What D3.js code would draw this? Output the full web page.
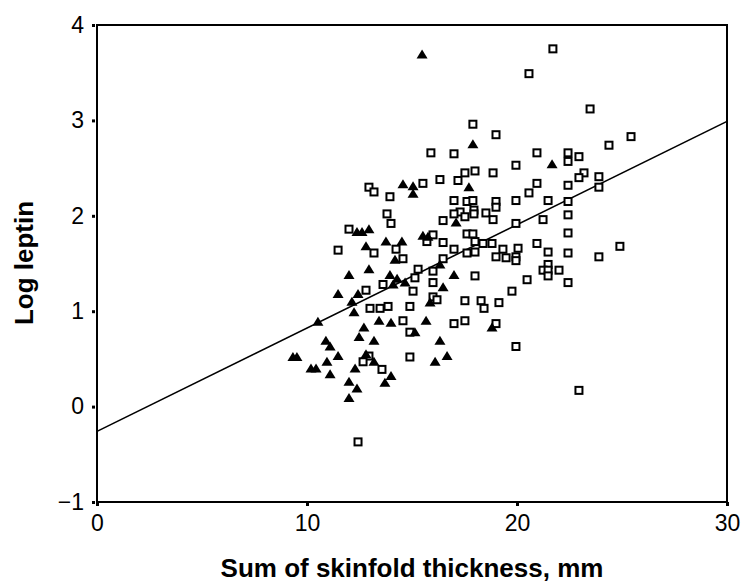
<!DOCTYPE html>
<html>
<head>
<meta charset="utf-8">
<script src="https://cdn.jsdelivr.net/npm/d3@7"></script>
<style>
  body { margin: 0; background: #fff; }
  svg { font-family: "Liberation Sans", Arial, sans-serif; }
  .tick text { font-size: 23px; fill: #000; }
  .tick line { stroke: #000; stroke-width: 3; }
</style>
</head>
<body>
<div id="main-chart"></div>
<script>
// Log leptin vs sum of skinfold thickness

// Open squares
var squareX = [12.95, 13.19, 13.95, 13.81, 14.0, 12.0, 11.48, 13.19, 14.24, 13.62,
  12.81, 13.0, 13.48, 13.86, 12.95, 12.67, 13.57, 12.43, 17.9, 19.0,
  15.9, 17.0, 19.95, 17.52, 18.0, 18.86, 16.33, 17.19, 15.52, 17.0,
  17.62, 17.9, 19.0, 19.0, 19.95, 17.29, 17.0, 17.52, 17.95, 17.95,
  18.52, 16.48, 18.86, 19.95, 16.0, 15.71, 17.62, 17.9, 18.0, 18.38,
  18.81, 16.48, 17.0, 17.62, 18.0, 19.33, 19.0, 19.48, 20.05, 19.95,
  19.95, 14.57, 16.48, 15.29, 16.0, 15.14, 18.0, 16.0, 15.05, 19.76,
  16.0, 16.19, 17.52, 18.29, 18.43, 19.14, 14.9, 14.57, 17.0, 17.52,
  19.0, 14.9, 19.95, 14.9, 21.71, 20.57, 23.48, 25.43, 24.38, 20.95,
  22.43, 22.43, 22.95, 23.19, 22.95, 23.9, 23.9, 20.95, 20.57, 22.43,
  21.48, 22.43, 22.43, 21.24, 22.43, 20.95, 21.48, 22.43, 24.9, 23.9,
  21.48, 21.24, 21.48, 21.48, 22.0, 20.48, 22.43, 22.95];
var squareY = [2.30, 2.25, 2.20, 2.02, 1.92, 1.86, 1.64, 1.61, 1.65, 1.28,
  1.22, 1.03, 1.03, 1.05, 0.53, 0.47, 0.39, -0.37, 2.96, 2.85,
  2.66, 2.65, 2.53, 2.45, 2.47, 2.45, 2.38, 2.37, 2.34, 2.16,
  2.15, 2.16, 2.15, 2.09, 2.16, 2.04, 2.02, 1.99, 2.06, 2.02,
  2.03, 1.95, 1.96, 1.92, 1.80, 1.73, 1.81, 1.81, 1.73, 1.71,
  1.71, 1.72, 1.65, 1.61, 1.62, 1.65, 1.57, 1.56, 1.66, 1.57,
  1.53, 1.55, 1.55, 1.44, 1.42, 1.35, 1.37, 1.30, 1.21, 1.21,
  1.15, 1.12, 1.11, 1.11, 1.03, 1.09, 1.05, 0.90, 0.87, 0.90,
  0.87, 0.78, 0.63, 0.52, 3.75, 3.49, 3.12, 2.83, 2.74, 2.66,
  2.66, 2.57, 2.62, 2.45, 2.40, 2.41, 2.30, 2.34, 2.24, 2.32,
  2.16, 2.15, 2.01, 1.96, 1.82, 1.71, 1.62, 1.61, 1.68, 1.57,
  1.49, 1.43, 1.43, 1.37, 1.43, 1.33, 1.30, 0.17];

// Filled triangles
var triangleX = [12.38, 12.62, 12.95, 12.81, 13.76, 14.19, 12.0, 12.95, 13.95, 14.29,
  11.48, 12.43, 12.14, 12.24, 10.52, 13.43, 14.0, 12.71, 12.48, 10.9,
  11.1, 13.19, 9.52, 9.33, 11.48, 12.81, 10.95, 13.19, 10.43, 10.19,
  12.29, 11.1, 14.0, 13.71, 12.0, 12.38, 12.0, 15.48, 17.9, 14.57,
  15.05, 15.05, 17.71, 17.1, 15.52, 15.76, 14.52, 16.33, 14.67, 14.1,
  17.0, 16.48, 15.86, 15.67, 18.81, 15.14, 16.33, 16.67, 16.1, 21.67];
var triangleY = [1.83, 1.83, 1.86, 1.68, 1.73, 1.54, 1.38, 1.44, 1.38, 1.34,
  1.18, 1.18, 1.10, 0.99, 0.89, 0.90, 0.88, 0.83, 0.73, 0.69,
  0.63, 0.69, 0.52, 0.52, 0.53, 0.55, 0.47, 0.47, 0.40, 0.40,
  0.40, 0.34, 0.32, 0.25, 0.26, 0.19, 0.09, 3.69, 2.75, 2.33,
  2.31, 2.23, 2.30, 1.93, 1.79, 1.78, 1.73, 1.49, 1.30, 1.28,
  1.38, 1.25, 1.09, 0.90, 0.83, 0.78, 0.69, 0.53, 0.47, 2.54];

// Fitted line end points
var fitX = [0, 30];
var fitY = [-0.26, 2.99];

var xTicks = [0, 10, 20, 30];
var yTicks = [-1, 0, 1, 2, 3, 4];

var margin = { top: 25, right: 16, bottom: 81, left: 97 },
  width = 743 - margin.left - margin.right,
  height = 583 - margin.top - margin.bottom;

var xScale = d3.scaleLinear().domain([0, 30]).range([0, width]);
var yScale = d3.scaleLinear().domain([-1, 4]).range([height, 0]);

var svg = d3
  .select("#main-chart")
  .append("svg")
  .attr("width", 743)
  .attr("height", 583)
  .append("g")
  .attr("transform", "translate(" + margin.left + "," + margin.top + ")");

// x axis
var xAxis = svg
  .append("g")
  .attr("transform", "translate(0," + height + ")")
  .call(
    d3.axisBottom(xScale).tickValues(xTicks).tickSize(4).tickPadding(9)
      .tickFormat(d3.format("d"))
  );
xAxis.select(".domain").remove();

// y axis
var yAxis = svg
  .append("g")
  .call(
    d3.axisLeft(yScale).tickValues(yTicks).tickSize(4).tickPadding(9)
      .tickFormat(function(d) { return d < 0 ? "\u2212" + Math.abs(d) : d; })
  );
yAxis.select(".domain").remove();
yAxis.selectAll(".tick line").attr("x1", -2).attr("x2", -5);

// frame
svg
  .append("rect")
  .attr("x", 0)
  .attr("y", 0)
  .attr("width", width)
  .attr("height", height)
  .attr("fill", "none")
  .attr("stroke", "#000")
  .attr("stroke-width", 2);

// fitted line
var lineGenerator = d3
  .line()
  .x(function(d) { return xScale(d[0]); })
  .y(function(d) { return yScale(d[1]); });

svg
  .append("path")
  .datum(d3.zip(fitX, fitY))
  .attr("d", lineGenerator)
  .attr("fill", "none")
  .attr("stroke", "#000")
  .attr("stroke-width", 1.6);

// squares
svg
  .selectAll(".sq")
  .data(d3.zip(squareX, squareY))
  .enter()
  .append("rect")
  .attr("class", "sq")
  .attr("x", function(d) { return xScale(d[0]) - 3.5; })
  .attr("y", function(d) { return yScale(d[1]) - 3.5; })
  .attr("width", 7)
  .attr("height", 7)
  .attr("fill", "#fff")
  .attr("stroke", "#000")
  .attr("stroke-width", 2);

// triangles
var tri = "M0,-5L5.5,4L-5.5,4Z";
svg
  .selectAll(".tri")
  .data(d3.zip(triangleX, triangleY))
  .enter()
  .append("path")
  .attr("class", "tri")
  .attr("d", tri)
  .attr("transform", function(d) {
    return "translate(" + xScale(d[0]) + "," + yScale(d[1]) + ")";
  })
  .attr("fill", "#000");

// axis labels
svg
  .append("text")
  .attr("x", width / 2)
  .attr("y", height + 75)
  .style("text-anchor", "middle")
  .style("font-weight", "bold")
  .style("font-size", "26px")
  .text("Sum of skinfold thickness, mm");

svg
  .append("text")
  .attr("transform", "rotate(-90)")
  .attr("x", -(263 - margin.top))
  .attr("y", 33 - margin.left)
  .style("text-anchor", "middle")
  .style("font-weight", "bold")
  .style("font-size", "26px")
  .text("Log leptin");
</script>
</body>
</html>
